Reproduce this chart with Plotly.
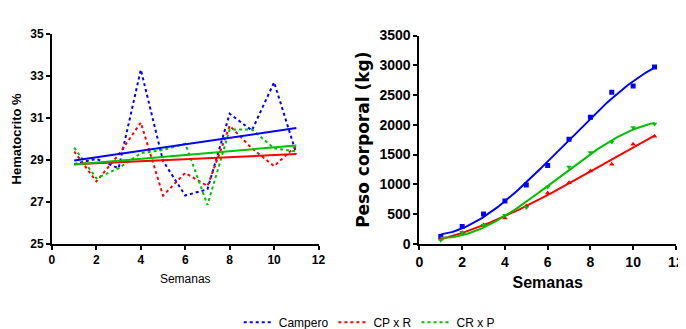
import numpy as np
import plotly.graph_objects as go

semanas = [1, 2, 3, 4, 5, 6, 7, 8, 9, 10, 11]

# Hematocrito %
hto_campero = [28.8, 29.05, 28.6, 33.3, 28.95, 27.3, 27.6, 31.2, 30.4, 32.7, 29.3]
hto_cpxr = [29.4, 27.97, 29.25, 30.78, 27.3, 28.38, 27.75, 30.63, 29.55, 28.7, 29.67]
hto_crxp = [29.58, 28.12, 28.6, 29.32, 29.47, 29.77, 26.85, 30.45, 30.45, 29.55, 29.4]

# Peso corporal
peso_campero = [122, 291, 503, 720, 990, 1318, 1757, 2128, 2546, 2652, 2970]
peso_cpxr = [80, 185, 318, 434, 635, 852, 1027, 1223, 1339, 1673, 1810]
peso_crxp = [58, 196, 312, 482, 609, 953, 1292, 1535, 1710, 1953, 2012]

names = ["Campero", "CP x R", "CR x P"]
colors = ["#0000ff", "#ff0000", "#00c000"]
hto = [hto_campero, hto_cpxr, hto_crxp]
peso = [peso_campero, peso_cpxr, peso_crxp]
symbols = ["square", "triangle-up", "triangle-down"]

fig = go.Figure()
x = np.array(semanas, dtype=float)
xf = np.linspace(1, 11, 100)

for n, c, h in zip(names, colors, hto):
    fig.add_trace(go.Scatter(x=semanas, y=h, mode="lines", name=n,
                             line=dict(color=c, width=2, dash="3px,3px"),
                             xaxis="x", yaxis="y", showlegend=True))
for n, c, h in zip(names, colors, hto):
    p = np.polyfit(x, np.array(h), 1)
    fig.add_trace(go.Scatter(x=[1, 11], y=np.polyval(p, [1, 11]), mode="lines",
                             line=dict(color=c, width=2), xaxis="x", yaxis="y",
                             showlegend=False, hoverinfo="skip"))
for n, c, pv, s in zip(names, colors, peso, symbols):
    fig.add_trace(go.Scatter(x=semanas, y=pv, mode="markers",
                             marker=dict(color=c, size=5, symbol=s),
                             xaxis="x2", yaxis="y2", showlegend=False))
    p = np.polyfit(x, np.array(pv, dtype=float), 3)
    fig.add_trace(go.Scatter(x=xf, y=np.polyval(p, xf), mode="lines",
                             line=dict(color=c, width=2), xaxis="x2", yaxis="y2",
                             showlegend=False, hoverinfo="skip"))

common = dict(showline=True, linecolor="black", linewidth=2, ticks="outside",
              ticklen=4, tickwidth=2, tickcolor="black", showgrid=False,
              zeroline=False)

fig.update_layout(
    width=686, height=329,
    margin=dict(l=0, r=0, t=0, b=0),
    paper_bgcolor="white", plot_bgcolor="white",
    showlegend=True,
    legend=dict(orientation="h", x=0.53, y=0.015, xanchor="center", yanchor="middle",
                font=dict(family="Liberation Sans", size=12, color="black"),
                itemwidth=30, tracegroupgap=0, bgcolor="rgba(0,0,0,0)"),
    xaxis=dict(domain=[0.0593, 0.4548], range=[0, 12], dtick=2, tick0=0, anchor="y",
               tickfont=dict(family="Liberation Sans", size=12, color="black"),
               title=dict(text="Semanas", font=dict(family="Liberation Sans", size=12, color="black"), standoff=8),
               **common),
    yaxis=dict(domain=[0.2675, 0.9422], range=[25, 35], dtick=2, tick0=25, anchor="x",
               tickfont=dict(family="Liberation Sans", size=12, color="black"),
               title=dict(text="<b>Hematocrito %</b>", font=dict(family="Liberation Sans", size=13, color="black"), standoff=6),
               **common),
    xaxis2=dict(domain=[0.6045, 0.985], range=[0, 12], dtick=2, tick0=0, anchor="y2",
                tickfont=dict(family="Liberation Sans", size=14, color="black"),
                title=dict(text="<b>Semanas</b>", font=dict(family="Liberation Sans", size=16, color="black"), standoff=8),
                **common),
    yaxis2=dict(domain=[0.2675, 0.937], range=[0, 3500], dtick=500, tick0=0, anchor="x2",
                tickfont=dict(family="Liberation Sans", size=14, color="black"),
                title=dict(text="<b>Peso corporal (kg)</b>", font=dict(family="DejaVu Sans", size=17, color="black"), standoff=6),
                **common),
)
fig.update_xaxes(tickprefix="<b>", ticksuffix="</b>")
fig.update_yaxes(tickprefix="<b>", ticksuffix="</b>")

fig.write_html("out.html")
